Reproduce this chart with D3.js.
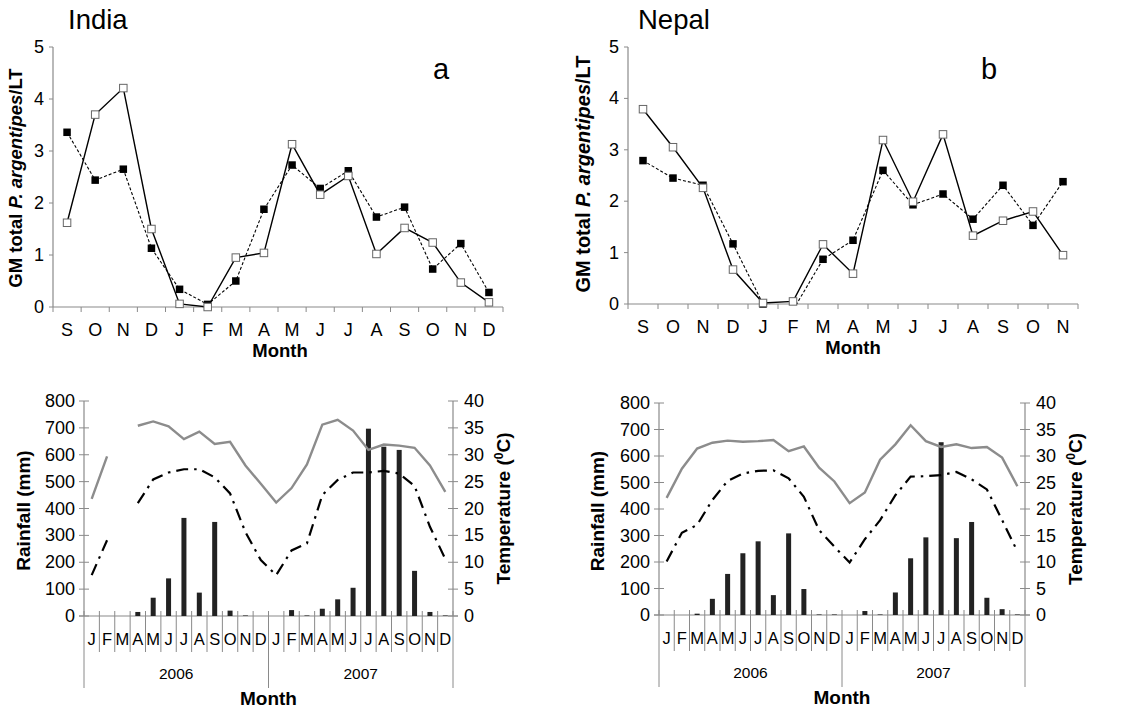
<!DOCTYPE html>
<html><head><meta charset="utf-8">
<script src="https://cdn.jsdelivr.net/npm/d3@7"></script>
<style>
body{margin:0;background:#fff;}
text{font-family:"Liberation Sans",Arial,sans-serif;}
</style></head>
<body><svg id="chart" width="1133" height="711"></svg>
<script>
// ---------- DATA ----------
const monthsA = ["S","O","N","D","J","F","M","A","M","J","J","A","S","O","N","D"];
const monthsB = ["S","O","N","D","J","F","M","A","M","J","J","A","S","O","N"];
const indiaOpen   = [1.62,3.70,4.21,1.50,0.06,0.00,0.95,1.04,3.13,2.16,2.52,1.02,1.52,1.24,0.47,0.09];
const indiaFilled = [3.36,2.44,2.65,1.13,0.34,0.05,0.50,1.88,2.73,2.28,2.62,1.73,1.92,0.73,1.22,0.28];
const nepalOpen   = [3.79,3.05,2.26,0.67,0.02,0.05,1.16,0.59,3.19,1.99,3.30,1.33,1.62,1.80,0.95];
const nepalFilled = [2.79,2.45,2.31,1.17,0.00,-0.12,0.87,1.24,2.60,1.93,2.14,1.65,2.31,1.53,2.38];
const topTicks = [0,1,2,3,4,5];

const monthsBottom = ["J","F","M","A","M","J","J","A","S","O","N","D","J","F","M","A","M","J","J","A","S","O","N","D"];
const years = ["2006","2007"];
const rainTicks = [0,100,200,300,400,500,600,700,800];
const tempTicks = [0,5,10,15,20,25,30,35,40];

const rainIndia = [0,0,0,15,68,140,365,87,350,20,2,0, 0,22,2,27,62,105,697,630,618,168,15,2];
const tmaxIndia = [21.8,29.7,null,35.4,36.2,35.3,32.9,34.3,32.0,32.4,28.0,24.6, 21.1,23.8,28.2,35.6,36.5,34.5,30.9,31.9,31.7,31.3,28.0,23.1];
const tminIndia = [7.6,14.1,null,21.0,25.4,26.7,27.3,27.3,25.8,22.8,15.6,10.4, 7.6,12.2,13.5,22.5,25.3,26.7,26.7,27.0,26.5,24.2,16.6,10.6];

const rainNepal = [0,0,5,61,155,233,278,75,308,98,2,2, 0,15,2,85,214,293,652,290,351,65,22,2];
const tmaxNepal = [22.1,27.6,31.4,32.5,32.9,32.7,32.8,33.0,30.9,31.8,27.8,25.2, 21.1,23.1,29.3,32.2,35.8,32.8,31.7,32.2,31.5,31.7,29.7,24.3];
const tminNepal = [10.1,15.5,17.0,21.7,25.3,26.7,27.2,27.3,25.8,22.3,16.0,12.9, 9.9,14.3,17.9,22.6,26.1,26.2,26.4,27.0,25.6,23.7,17.9,12.0];

// ---------- DRAW ----------
const svg = d3.select("#chart");
const axisGray = "#8a8a8a";
const labelFont = "'Open Sans','Noto Sans',sans-serif";

function drawTop(c){
  const g = svg.append("g");
  const x = d3.scaleBand().domain(c.cats.map((d,i)=>i)).range([c.x0,c.x1]).padding(0);
  const y = d3.scaleLinear().domain([0,5]).range([c.y0,c.y1]);
  g.append("line").attr("x1",c.x0).attr("x2",c.x0).attr("y1",y(5)).attr("y2",y(0)).attr("stroke",axisGray).attr("stroke-width",1.2);
  g.append("line").attr("x1",c.x0).attr("x2",c.x1).attr("y1",y(0)).attr("y2",y(0)).attr("stroke",axisGray).attr("stroke-width",1.2);
  g.selectAll(".yt").data(topTicks).join("line").attr("x1",c.x0-4).attr("x2",c.x0).attr("y1",d=>y(d)).attr("y2",d=>y(d)).attr("stroke",axisGray);
  g.selectAll(".ytl").data(topTicks).join("text").attr("x",c.x0-9).attr("y",d=>y(d)+6).attr("text-anchor","end").attr("font-size",18).text(d=>d);
  const bounds = c.cats.map((d,i)=>x(i)).concat([c.x1]);
  g.selectAll(".xt").data(bounds).join("line").attr("x1",d=>d).attr("x2",d=>d).attr("y1",y(0)).attr("y2",y(0)+5).attr("stroke",axisGray);
  g.selectAll(".xl").data(c.cats).join("text").attr("x",(d,i)=>x(i)+x.bandwidth()/2).attr("y",c.y0+29).attr("text-anchor","middle").attr("font-size",18).text(d=>d);
  g.append("text").attr("x",c.monthX).attr("y",c.y0+50).attr("text-anchor","middle").attr("font-size",18.5).attr("font-weight","bold").text("Month");
  const t = g.append("text").attr("transform",`translate(${c.titleX},${c.titleY}) rotate(-90)`).attr("text-anchor","middle").attr("font-size",c.titleSize).attr("font-weight","bold");
  t.append("tspan").text("GM total ");
  t.append("tspan").attr("font-style","italic").text("P. argentipes");
  t.append("tspan").text("/LT");
  g.append("text").attr("x",c.countryX).attr("y",29).attr("font-family",labelFont).attr("font-size",27.5).text(c.country);
  g.append("text").attr("x",c.letterX).attr("y",79).attr("text-anchor","middle").attr("font-family",labelFont).attr("font-size",29).text(c.letter);
  const cx = i=>x(i)+x.bandwidth()/2;
  const clipId = "clip"+c.letter;
  svg.append("clipPath").attr("id",clipId).append("rect").attr("x",c.x0).attr("y",0).attr("width",c.x1-c.x0+10).attr("height",c.y0+0.5);
  const line = d3.line().x((d,i)=>cx(i)).y(d=>y(d));
  g.append("path").datum(c.filled).attr("d",line).attr("fill","none").attr("stroke","#000").attr("stroke-width",1.1).attr("stroke-dasharray","3,2").attr("clip-path",`url(#${clipId})`);
  g.append("path").datum(c.open).attr("d",line).attr("fill","none").attr("stroke","#000").attr("stroke-width",1.4);
  const s = 7.5;
  g.selectAll(".mf").data(c.filled.map((v,i)=>[i,v]).filter(d=>d[1]>=0)).join("rect")
    .attr("x",d=>cx(d[0])-s/2).attr("y",d=>y(d[1])-s/2).attr("width",s).attr("height",s).attr("fill","#000");
  g.selectAll(".mo").data(c.open.map((v,i)=>[i,v])).join("rect")
    .attr("x",d=>cx(d[0])-s/2).attr("y",d=>y(d[1])-s/2).attr("width",s).attr("height",s).attr("fill","#fff").attr("stroke","#666").attr("stroke-width",1);
}

function drawBottom(c){
  const g = svg.append("g");
  const x = d3.scaleBand().domain(monthsBottom.map((d,i)=>i)).range([c.x0,c.x1]).padding(0);
  const yR = d3.scaleLinear().domain([0,800]).range([c.y0,c.y1]);
  const yT = d3.scaleLinear().domain([0,40]).range([c.y0,c.y1]);
  const cx = i=>x(i)+x.bandwidth()/2;
  g.append("line").attr("x1",c.x0).attr("x2",c.x0).attr("y1",c.y1).attr("y2",c.y0).attr("stroke",axisGray).attr("stroke-width",1.2);
  g.selectAll(".lt").data(rainTicks).join("line").attr("x1",c.x0-5).attr("x2",c.x0+5).attr("y1",d=>yR(d)).attr("y2",d=>yR(d)).attr("stroke",axisGray);
  g.selectAll(".ltl").data(rainTicks).join("text").attr("x",c.x0-9).attr("y",d=>yR(d)+6).attr("text-anchor","end").attr("font-size",18).text(d=>d);
  g.append("line").attr("x1",c.x1).attr("x2",c.x1).attr("y1",c.y1).attr("y2",c.y0).attr("stroke",axisGray).attr("stroke-width",1.2);
  g.selectAll(".rt").data(tempTicks).join("line").attr("x1",c.x1-5).attr("x2",c.x1+5).attr("y1",d=>yT(d)).attr("y2",d=>yT(d)).attr("stroke",axisGray);
  g.selectAll(".rtl").data(tempTicks).join("text").attr("x",c.x1+11).attr("y",d=>yT(d)+6).attr("text-anchor","start").attr("font-size",18).text(d=>d);
  g.append("line").attr("x1",c.x0-5).attr("x2",c.x1+5).attr("y1",c.y0).attr("y2",c.y0).attr("stroke",axisGray).attr("stroke-width",1.2);
  const bounds = monthsBottom.map((d,i)=>x(i)).concat([c.x1]);
  g.selectAll(".ms").data(bounds).join("line").attr("x1",d=>d).attr("x2",d=>d)
    .attr("y1",c.y0-5).attr("y2",(d,i)=> (i%12===0) ? c.y0+72 : c.y0+36).attr("stroke",axisGray).attr("stroke-width",1);
  g.selectAll(".ml").data(monthsBottom).join("text").attr("x",(d,i)=>cx(i)).attr("y",c.y0+29).attr("text-anchor","middle").attr("font-size",16.5).text(d=>d);
  g.selectAll(".yl").data(years).join("text").attr("x",(d,i)=>(x(i*12)+ (i===1?c.x1:x(12)))/2).attr("y",c.y0+63).attr("text-anchor","middle").attr("font-size",15.5).text(d=>d);
  g.append("text").attr("x",(c.x0+c.x1)/2).attr("y",c.y0+89).attr("text-anchor","middle").attr("font-size",19).attr("font-weight","bold").text("Month");
  g.append("text").attr("transform",`translate(${c.lTitleX},${(c.y0+c.y1)/2+2}) rotate(-90)`).attr("text-anchor","middle").attr("font-size",19).attr("font-weight","bold").text("Rainfall (mm)");
  const tt = g.append("text").attr("transform",`translate(${c.rTitleX},${(c.y0+c.y1)/2}) rotate(-90)`).attr("text-anchor","middle").attr("font-size",19).attr("font-weight","bold");
  tt.append("tspan").text("Temperature (");
  tt.append("tspan").attr("font-size",12).attr("dy",-7).text("0");
  tt.append("tspan").attr("dy",7).text("C)");
  g.append("text").attr("x",c.letterX).attr("y",396).attr("text-anchor","middle").attr("font-family",labelFont).attr("font-size",27).text(c.letter);
  const bw = 5;
  g.selectAll(".bar").data(c.rain).join("rect").attr("x",(d,i)=>cx(i)-bw/2).attr("y",d=>yR(d)).attr("width",bw).attr("height",d=>c.y0-yR(d)).attr("fill","#222");
  const line = d3.line().defined(d=>d!=null).x((d,i)=>cx(i)).y(d=>yT(d));
  g.append("path").datum(c.tmax).attr("d",line).attr("fill","none").attr("stroke","#8c8c8c").attr("stroke-width",2.4);
  g.append("path").datum(c.tmin).attr("d",line).attr("fill","none").attr("stroke","#000").attr("stroke-width",2.2).attr("stroke-dasharray","12,6,2.5,6");
}

drawTop({x0:53,x1:503,y0:307,y1:47,cats:monthsA,open:indiaOpen,filled:indiaFilled,monthX:280,titleX:22,titleY:178,titleSize:18.5,country:"India",countryX:68,letter:"a",letterX:441});
drawTop({x0:628,x1:1078,y0:304,y1:47,cats:monthsB,open:nepalOpen,filled:nepalFilled,monthX:853,titleX:590,titleY:174,titleSize:20,country:"Nepal",countryX:638,letter:"b",letterX:989});
drawBottom({x0:84,x1:453,y0:616,y1:401,rain:rainIndia,tmax:tmaxIndia,tmin:tminIndia,lTitleX:30,rTitleX:510,letterX:410});
drawBottom({x0:659,x1:1025,y0:615,y1:403,rain:rainNepal,tmax:tmaxNepal,tmin:tminNepal,lTitleX:604,rTitleX:1082,letterX:988});
</script></body></html>
